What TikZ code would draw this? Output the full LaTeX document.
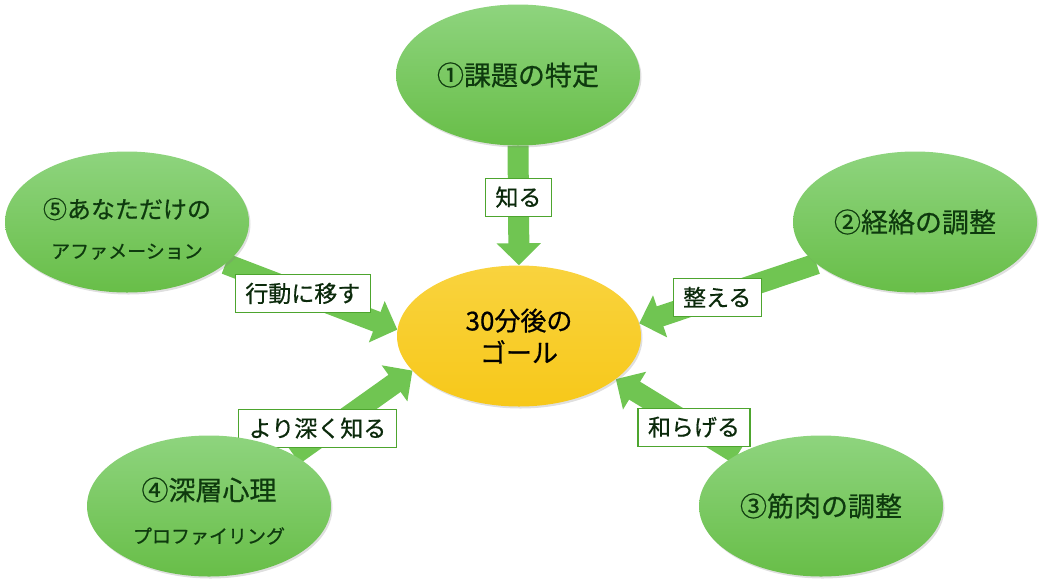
\documentclass[tikz,border=0pt]{standalone}
\usepackage{fontspec}
\setmainfont{Noto Sans CJK JP}[FakeBold=0.6]
\usetikzlibrary{arrows.meta,shapes.geometric,shadows,backgrounds}

\definecolor{leafTop}{HTML}{8ED47E}
\definecolor{leafBot}{HTML}{68BE48}
\definecolor{leafText}{HTML}{0E3A0E}
\definecolor{goldTop}{HTML}{F9D33E}
\definecolor{goldBot}{HTML}{F7C81A}
\definecolor{shaft}{HTML}{70C552}
\definecolor{boxline}{HTML}{4DA52E}
\definecolor{lblText}{HTML}{0B2A0B}

\begin{document}
\begin{tikzpicture}[x=1pt,y=-1pt,
  stage/.style={ellipse, minimum width=244pt, minimum height=141pt, inner sep=0pt,
    top color=leafTop, bottom color=leafBot, text=leafText, align=center,
    drop shadow={opacity=0.25, shadow xshift=1.5pt, shadow yshift=-2pt},
    font=\fontsize{27}{40}\selectfont},
  goalstyle/.style={stage, top color=goldTop, bottom color=goldBot, text=black,
    font=\fontsize{26}{32}\selectfont},
  blockarrow/.style={draw=shaft, line width=21pt, -{Triangle[width=43pt,length=22pt]}},
  lbl/.style={draw=boxline, line width=1.1pt, fill=white, text=lblText,
    font=\fontsize{23}{23}\selectfont, inner xsep=10pt, inner ysep=0pt, minimum height=38pt}]

\useasboundingbox (0,0) rectangle (1044,584);

% goal and the five steps
\node[goalstyle] (goal) at (519,336) {30分後の\\ゴール};
\node[stage] (e1) at (518,75) {①課題の特定};
\node[stage] (e2) at (915,222) {②経絡の調整};
\node[stage] (e3) at (821,506) {③筋肉の調整};
\node[stage, font=\fontsize{27}{43}\selectfont] (e4) at (209,506)
  {\rule{0pt}{33pt}④深層心理\\{\fontsize{19}{19}\selectfont プロファイリング}};
\node[stage, font=\fontsize{24}{40}\selectfont] (e5) at (127,222)
  {\rule{0pt}{34pt}⑤あなただけの\\{\fontsize{19}{19}\selectfont アファメーション}};

% arrows into the goal, with their words
\begin{scope}[on background layer]
\draw[blockarrow] (e1.south) -- (goal.north) node[lbl, pos=0.43] (k1) {知る};
\foreach \from/\to/\p/\dy/\word [count=\i from 2] in
  {e2.203/goal.6/0.56/0/整える,
   e3.148/goal.336/0.36/0/和らげる,
   e4.31/goal.198/0.2/10/より深く知る,
   e5.337/goal.177/0.45/0/行動に移す}
  \draw[blockarrow] (\from) -- (\to) node[lbl, pos=\p, yshift=\dy] (k\i) {\word};
\end{scope}
\end{tikzpicture}
\end{document}
